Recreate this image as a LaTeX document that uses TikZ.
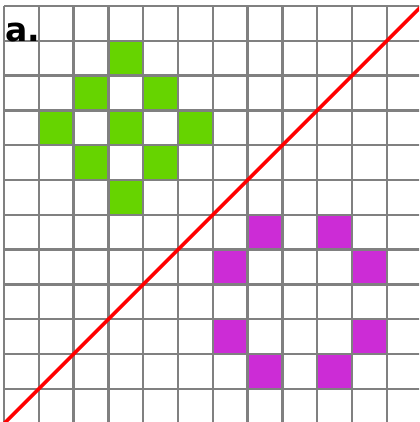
\documentclass[tikz,border=0pt]{standalone}
\usepackage{fontspec}
\newfontfamily\panelfont{DejaVu Sans}
\definecolor{cellgreen}{RGB}{102,212,0}
\definecolor{cellmagenta}{RGB}{204,44,214}
\definecolor{gridgray}{RGB}{128,128,128}
\tikzset{
  greencell/.style={fill=cellgreen},
  magentacell/.style={fill=cellmagenta},
  gridline/.style={draw=gridgray, line width=2pt},
  mirror/.style={draw=red, line width=3pt}
}
\begin{document}
\begin{tikzpicture}[x=1cm, y=1cm]
      \useasboundingbox (-0.115,0.046) rectangle (11.925,12.172);
      \clip (-0.115,0.046) rectangle (11.925,12.172);
      \fill[white] (-0.115,0.046) rectangle (11.925,12.172);
      % coloured cells: column / row counted from the top
      \foreach \c/\r in {3/1, 2/2, 4/2, 1/3, 3/3, 5/3, 2/4, 4/4, 3/5}
        \path[greencell] (\c,{11-\r}) rectangle ++(1,1);
      \foreach \c/\r in {7/6, 9/6, 6/7, 10/7, 6/9, 10/9, 7/10, 9/10}
        \path[magentacell] (\c,{11-\r}) rectangle ++(1,1);
      \draw[gridline] (0,-1) grid (13,12);
      \draw[mirror] (-1,-1) -- (13,13);
      \node[font=\panelfont\bfseries\fontsize{27}{27}\selectfont, anchor=base west, inner sep=0pt] (panel) at (0.03,10.97) {a.};
    \end{tikzpicture}
\end{document}
